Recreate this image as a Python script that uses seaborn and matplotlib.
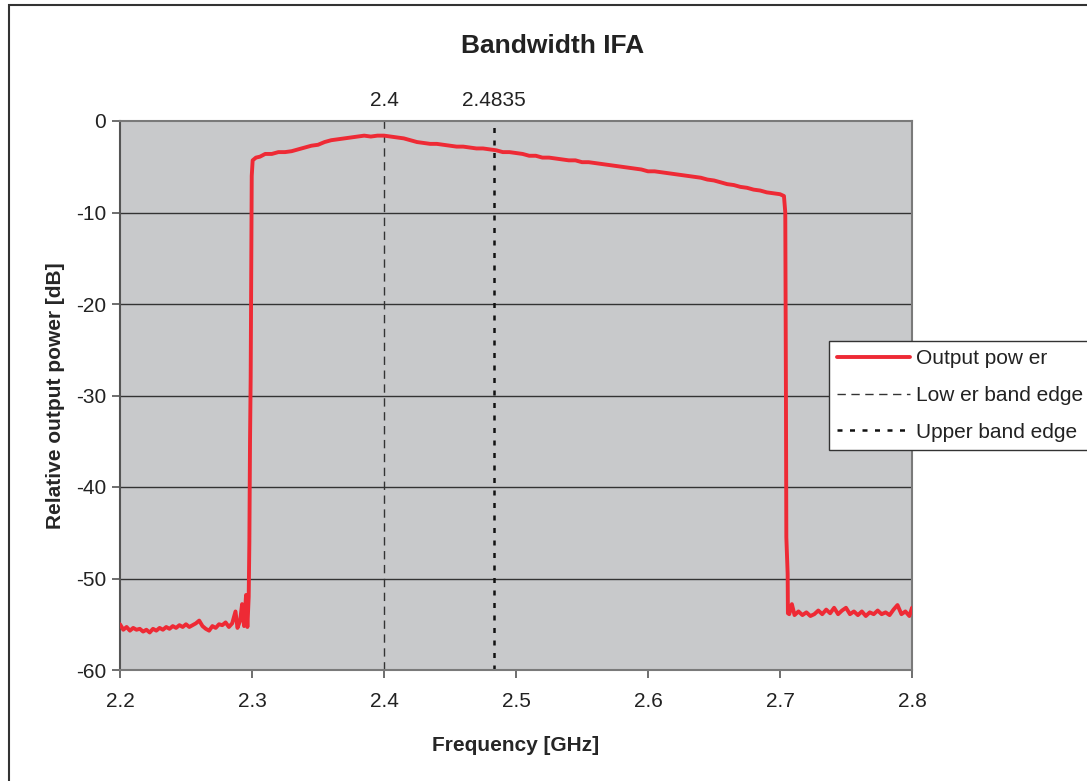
import numpy as np
import pandas as pd
import matplotlib.pyplot as plt
import matplotlib.patches as mpatches
from matplotlib.lines import Line2D
import seaborn as sns

# Valores
freq_baixo = [2.200, 2.2025, 2.205, 2.2075, 2.210, 2.2125, 2.215, 2.2175, 2.220, 2.2225,
              2.225, 2.2275, 2.230, 2.2325, 2.235, 2.2375, 2.240, 2.2425, 2.245, 2.2475,
              2.250, 2.2525, 2.255, 2.2575, 2.260, 2.2625, 2.265, 2.2675, 2.270, 2.2725,
              2.275, 2.2775, 2.280, 2.2825, 2.285, 2.2875, 2.289, 2.291, 2.2925, 2.294,
              2.2955, 2.2965]
pot_baixo = [-55.0, -55.6, -55.3, -55.7, -55.4, -55.6, -55.5, -55.8, -55.6, -55.9,
             -55.5, -55.7, -55.4, -55.6, -55.3, -55.5, -55.2, -55.4, -55.1, -55.3,
             -55.0, -55.3, -55.1, -54.9, -54.6, -55.2, -55.5, -55.7, -55.2, -55.4,
             -55.0, -55.1, -54.8, -55.3, -54.9, -53.6, -55.4, -54.6, -52.8, -55.2,
             -51.8, -55.3]

freq_subida = [2.2975, 2.2980, 2.2985, 2.2990, 2.2995, 2.2998]
pot_subida = [-52.0, -46.0, -35.0, -28.0, -15.0, -6.0]

freq_topo = [2.3005, 2.303, 2.306, 2.310, 2.315, 2.320, 2.325, 2.330, 2.335, 2.340,
             2.345, 2.350, 2.355, 2.360, 2.365, 2.370, 2.375, 2.380, 2.385, 2.390,
             2.395, 2.400, 2.405, 2.410, 2.415, 2.420, 2.425, 2.430, 2.435, 2.440,
             2.445, 2.450, 2.455, 2.460, 2.465, 2.470, 2.475, 2.480, 2.485, 2.490,
             2.495, 2.500, 2.505, 2.510, 2.515, 2.520, 2.525, 2.530, 2.535, 2.540,
             2.545, 2.550, 2.555, 2.560, 2.565, 2.570, 2.575, 2.580, 2.585, 2.590,
             2.595, 2.600, 2.605, 2.610, 2.615, 2.620, 2.625, 2.630, 2.635, 2.640,
             2.645, 2.650, 2.655, 2.660, 2.665, 2.670, 2.675, 2.680, 2.685, 2.690,
             2.695, 2.700, 2.703]
pot_topo = [-4.3, -4.0, -3.9, -3.6, -3.6, -3.4, -3.4, -3.3, -3.1, -2.9,
            -2.7, -2.6, -2.3, -2.1, -2.0, -1.9, -1.8, -1.7, -1.6, -1.7,
            -1.6, -1.6, -1.7, -1.8, -1.9, -2.1, -2.3, -2.4, -2.5, -2.5,
            -2.6, -2.7, -2.8, -2.8, -2.9, -3.0, -3.0, -3.1, -3.2, -3.4,
            -3.4, -3.5, -3.6, -3.8, -3.8, -4.0, -4.0, -4.1, -4.2, -4.3,
            -4.3, -4.5, -4.5, -4.6, -4.7, -4.8, -4.9, -5.0, -5.1, -5.2,
            -5.3, -5.5, -5.5, -5.6, -5.7, -5.8, -5.9, -6.0, -6.1, -6.2,
            -6.4, -6.5, -6.7, -6.9, -7.0, -7.2, -7.3, -7.5, -7.6, -7.8,
            -7.9, -8.0, -8.2]

freq_descida = [2.7040, 2.7045, 2.7048, 2.7058, 2.7060]
pot_descida = [-10.0, -30.0, -45.5, -49.5, -53.8]

freq_alto = [2.707, 2.709, 2.711, 2.714, 2.717, 2.720, 2.723, 2.726, 2.729, 2.732,
             2.735, 2.738, 2.741, 2.744, 2.747, 2.750, 2.753, 2.756, 2.759, 2.762,
             2.765, 2.768, 2.771, 2.774, 2.777, 2.780, 2.783, 2.786, 2.789, 2.792,
             2.795, 2.798, 2.800]
pot_alto = [-53.9, -52.8, -54.0, -53.6, -54.0, -53.7, -54.1, -53.9, -53.5, -53.9,
            -53.4, -53.8, -53.2, -53.9, -53.5, -53.2, -53.9, -53.6, -54.0, -53.6,
            -54.1, -53.7, -53.9, -53.5, -53.9, -53.7, -54.0, -53.4, -52.9, -53.9,
            -53.6, -54.1, -53.2]

borda_inferior = 2.4
borda_superior = 2.4835

dados = pd.DataFrame({
    'freq': freq_baixo + freq_subida + freq_topo + freq_descida + freq_alto,
    'pot': pot_baixo + pot_subida + pot_topo + pot_descida + pot_alto,
})

sns.set_style('white')
plt.rcParams['font.family'] = ['Liberation Sans', 'DejaVu Sans']
plt.rcParams['axes.unicode_minus'] = False

fig = plt.figure(figsize=(10.87, 7.81), dpi=100)
ax = fig.add_axes([120 / 1087, 1 - 670 / 781, 792 / 1087, 549 / 781])
ax.set_facecolor('#c8c9cb')

# Grade horizontal
for v in range(-50, 0, 10):
    ax.axhline(v, color='#333333', lw=1.0, zorder=1)

# Linhas das bordas da banda
ax.axvline(borda_inferior, color='#333333', lw=1.0, dashes=(6, 4), zorder=2)
ax.axvline(borda_superior, color='#111111', lw=1.8, dashes=(2, 3), zorder=2)

# Curva de potencia
sns.lineplot(data=dados, x='freq', y='pot', ax=ax, color='#ee2a35', lw=2.8,
             sort=False, estimator=None, zorder=3)

ax.set_xlim(2.2, 2.8)
ax.set_ylim(-60, 0)
ax.set_xticks(np.arange(2.2, 2.81, 0.1))
ax.set_xticklabels(['2.2', '2.3', '2.4', '2.5', '2.6', '2.7', '2.8'])
ax.set_yticks(range(-60, 1, 10))
ax.tick_params(axis='both', labelsize=15, length=6, width=1.2, color='#555555',
               direction='out', pad=4, labelcolor='#222222')
ax.tick_params(axis='x', bottom=True, pad=10)
ax.tick_params(axis='y', left=True)
for lado in ['left', 'bottom', 'top', 'right']:
    ax.spines[lado].set_color('#7a7a7a')
    ax.spines[lado].set_linewidth(1.5)
ax.spines['left'].set_color('#555555')

ax.set_xlabel('Frequency [GHz]', fontsize=15, fontweight='bold', labelpad=18)
ax.set_ylabel('Relative output power [dB]', fontsize=15, fontweight='bold', labelpad=8)

# Rotulos das bordas no topo
trans = ax.get_xaxis_transform()
ax.text(borda_inferior, 1.02, '2.4', transform=trans, ha='center', va='bottom',
        fontsize=15, color='#222222')
ax.text(borda_superior, 1.02, '2.4835', transform=trans, ha='center', va='bottom',
        fontsize=15, color='#222222')

fig.text(553 / 1087, 1 - 46 / 781, 'Bandwidth IFA', ha='center', va='center',
         fontsize=19, fontweight='bold', color='#222222')

# Legenda
handles = [Line2D([], [], color='#ee2a35', lw=2.8),
           Line2D([], [], color='#333333', lw=1.0, dashes=(6, 4)),
           Line2D([], [], color='#111111', lw=1.8, dashes=(2, 3))]
labels = ['Output pow er', 'Low er band edge', 'Upper band edge']
leg = fig.legend(handles, labels, loc='upper left',
                 bbox_to_anchor=(829 / 1087, 1 - 341 / 781), fontsize=15,
                 frameon=True, fancybox=False, edgecolor='#333333', framealpha=1,
                 handlelength=3.5, handletextpad=0.3, labelspacing=0.85,
                 borderpad=0.4, borderaxespad=0)
leg.get_frame().set_linewidth(1.0)
leg.get_frame().set_facecolor('white')
for t in leg.get_texts():
    t.set_color('#222222')

# Moldura da figura
fig.patches.append(mpatches.Rectangle((9 / 1087, -0.1), 1.2, 1 - 5 / 781 + 0.1,
                                      transform=fig.transFigure, fill=False,
                                      edgecolor='#333333', lw=1.5))

fig.savefig('out.png', dpi=100)
